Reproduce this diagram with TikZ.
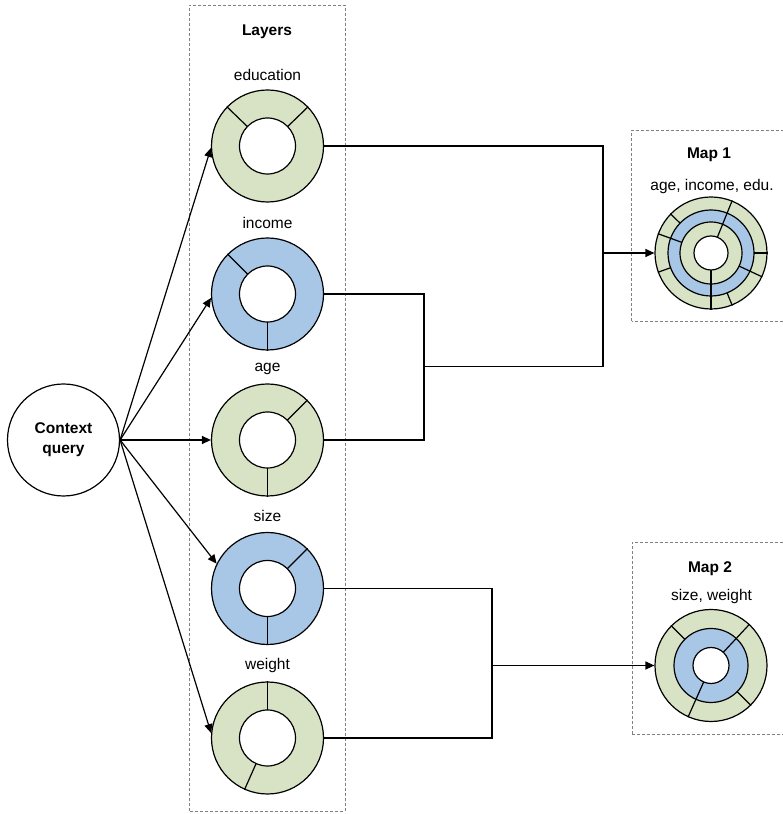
\documentclass[tikz,border=0pt]{standalone}
\usepackage{fontspec}
\setmainfont{Liberation Sans}
\usetikzlibrary{arrows.meta,calc}
\definecolor{ringgreen}{RGB}{215,227,196}
\definecolor{ringblue}{RGB}{168,198,230}
\definecolor{panelgray}{RGB}{128,128,128}

\begin{document}
\begin{tikzpicture}[x=1pt,y=1pt,
  every node/.style={font=\fontsize{15.5}{18}\selectfont},
  panel/.style={draw=panelgray, dash pattern=on 3pt off 2pt, line width=0.8pt},
  ring/.style={circle, draw, line width=1.2pt, inner sep=0pt, minimum size=112pt},
  disc/.style={circle, draw, line width=1.2pt, inner sep=0pt},
  seg/.style={line width=1.2pt},
  link/.style={line width=1.2pt},
  arrowlink/.style={link, -{Triangle[length=9pt,width=8pt]}},
  heading/.style={font=\fontsize{15.5}{19}\selectfont\bfseries},
]
\useasboundingbox (0,0) rectangle (783,814);

% dashed group frames
\draw[panel] (189,3) rectangle (345,809);
\draw[panel] (631.5,493) rectangle (786,684);
\draw[panel] (632,79.5) rectangle (786,272);

\node[heading] (layers) at (267,782) {Layers};
\node[heading] (map1t) at (709,659.5) {Map 1};
\node (map1l) at (712,628) {age, income, edu.};
\node[heading] (map2t) at (710,245.5) {Map 2};
\node (map2l) at (711.5,218) {size, weight};

% context query
\node[circle, draw, line width=1.2pt, minimum size=112pt, inner sep=0pt,
      align=center, heading] (cq) at (63.5,374) {Context\\[1pt]query};

% layer rings
\node[ring, fill=ringgreen] (edu) at (267.5,668) {};
\node[ring, fill=ringblue]  (inc) at (267.5,520) {};
\node[ring, fill=ringgreen] (age) at (267.5,374) {};
\node[ring, fill=ringblue]  (siz) at (267.5,225.5) {};
\node[ring, fill=ringgreen] (wei) at (267.5,76) {};

\foreach \r/\angs in {edu/{44,136}, inc/{135,270}, age/{45,270}, siz/{45,270}, wei/{90,246}}{
  \foreach \a in \angs
    \draw[seg] ($(\r.center)+(\a:28)$) -- (\r.\a);
  \node[disc, fill=white, minimum size=56pt] (\r-hole) at (\r.center) {};
}

\node (edu-l) at (267.5,739.5) {education};
\node (inc-l) at (267.5,591.5) {income};
\node (age-l) at (267.5,445.5) {age};
\node (siz-l) at (267.5,298.5) {size};
\node (wei-l) at (267.5,148.5) {weight};

% map 1 rings
\node[ring, fill=ringgreen] (m1) at (711,561) {};
\node[disc, fill=ringblue, minimum size=86pt] (m1b) at (m1.center) {};
\node[disc, fill=ringgreen, minimum size=62pt] (m1c) at (m1.center) {};
\node[disc, fill=white, minimum size=34pt] (m1h) at (m1.center) {};
\foreach \a in {136,0,200,292}
  \draw[seg] ($(m1.center)+(\a:43)$) -- (m1.\a);
\foreach \a in {160,335}
  \draw[seg] ($(m1.center)+(\a:31)$) -- (m1.\a);
\foreach \a in {68,270}
  \draw[seg] ($(m1.center)+(\a:17)$) -- (m1.\a);

% map 2 rings
\node[ring, fill=ringgreen] (m2) at (711,148.5) {};
\node[disc, fill=ringblue, minimum size=74pt] (m2b) at (m2.center) {};
\node[disc, fill=white, minimum size=36pt] (m2h) at (m2.center) {};
\foreach \a in {135,315}
  \draw[seg] ($(m2.center)+(\a:37)$) -- (m2.\a);
\foreach \a in {47,246}
  \draw[seg] ($(m2.center)+(\a:18)$) -- (m2.\a);

% query fan-out
\draw[arrowlink] (cq.east) -- (edu.182);
\draw[arrowlink] (cq.east) -- (inc.184);
\draw[arrowlink] (cq.east) -- (age.180);
\draw[arrowlink] (cq.east) -- (siz.154);
\draw[arrowlink] (cq.east) -- (wei.175);

% merging connectors
\coordinate (j1) at (603,561);
\coordinate (j2) at (424,447.5);
\coordinate (j3) at (492,148.5);
\draw[link] (edu.east) -| (j1);
\draw[link] (inc.east) -| (j2);
\draw[link] (age.east) -| (j2);
\draw[link] (j2) -| (j1);
\draw[arrowlink] (j1) -- (m1.west);
\draw[link] (siz.east) -| (j3);
\draw[link] (wei.east) -| (j3);
\draw[arrowlink] (j3) -- (m2.west);
\end{tikzpicture}
\end{document}
